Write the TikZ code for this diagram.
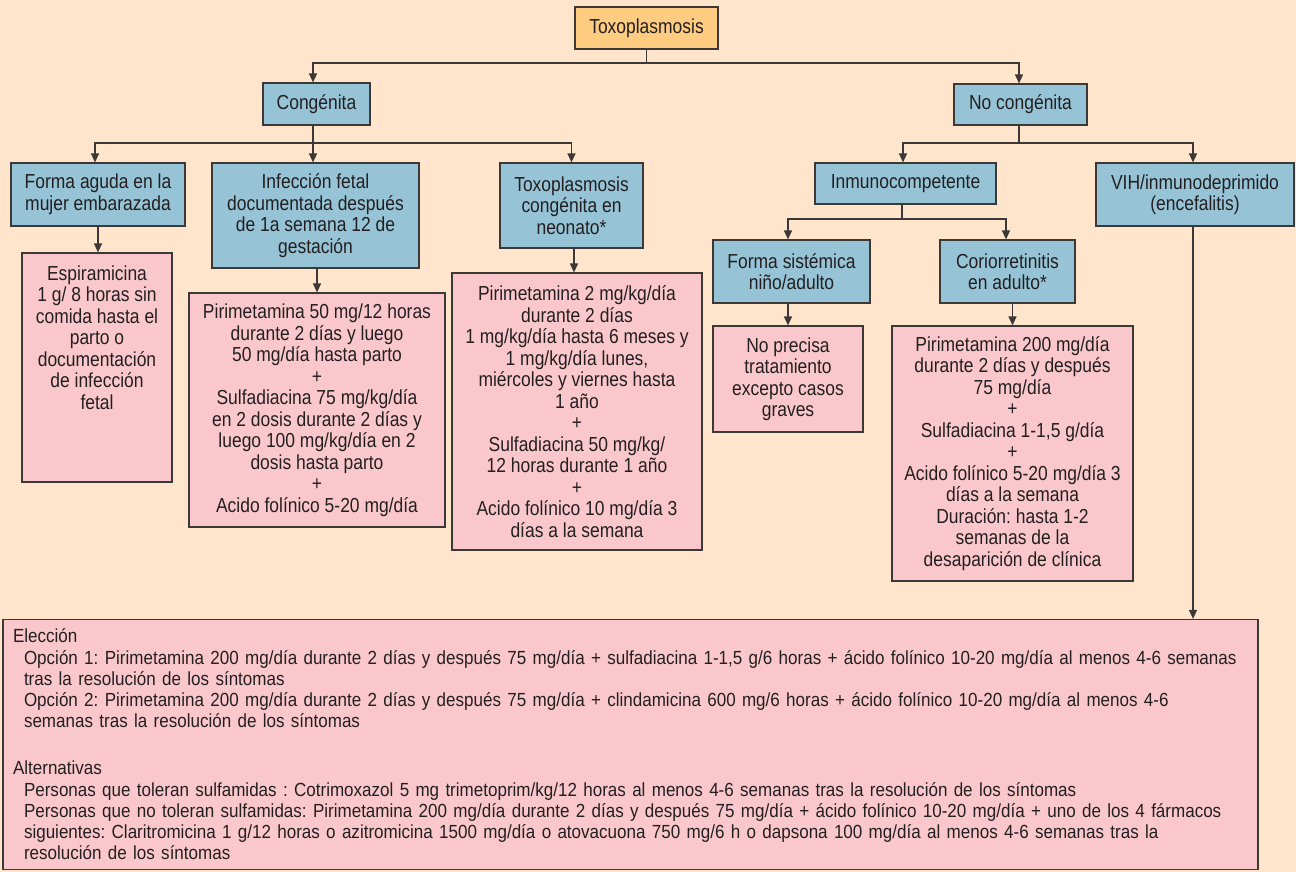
\documentclass[tikz,border=0pt]{standalone}
\usepackage{fontspec}
\setmainfont{Liberation Sans}[FakeStretch=0.86]
\newfontfamily\panelfont{Liberation Sans}[FakeStretch=0.896]
\usetikzlibrary{arrows.meta}

\definecolor{bgpeach}{RGB}{254,229,203}
\definecolor{boxorange}{RGB}{254,204,128}
\definecolor{boxblue}{RGB}{150,196,214}
\definecolor{boxpink}{RGB}{250,200,204}
\definecolor{edgegray}{RGB}{60,56,56}
\definecolor{inkdark}{RGB}{35,31,32}

\tikzset{
  box/.style={draw=edgegray, line width=1.2pt, inner sep=0pt, align=center,
    text=inkdark, font=\fontsize{20.3}{21.5}\selectfont},
  topbox/.style={box, fill=boxorange},
  catbox/.style={box, fill=boxblue},
  txbox/.style={box, fill=boxpink},
  ln/.style={draw=edgegray, line width=1.3pt},
  arr/.style={ln, -{Triangle[width=8pt,length=9pt]}},
}

\begin{document}
\frenchspacing
\begin{tikzpicture}[x=1pt, y=-1pt]
\fill[bgpeach] (0,0) rectangle (1296,872);
\useasboundingbox (0,0) rectangle (1296,872);

% root and first level
\node[topbox, minimum width=143, minimum height=42] (toxo) at (646.5,28) {Toxoplasmosis};
\node[catbox, minimum width=107, minimum height=42] (cong) at (316.5,104) {Congénita};
\node[catbox, minimum width=133, minimum height=41] (nocong) at (1020.5,104.5) {No congénita};

% congenital branch
\node[catbox, minimum width=174, minimum height=63] (aguda) at (98,194.5)
  {Forma aguda en la\\mujer embarazada};
\node[catbox, minimum width=207, minimum height=105] (fetal) at (315.5,215.5)
  {Infección fetal\\documentada después\\de 1a semana 12 de\\gestación};
\node[catbox, minimum width=143, minimum height=85] (neonato) at (571.5,205.5)
  {Toxoplasmosis\\congénita en\\neonato*};

\node[txbox, minimum width=150, minimum height=229] (espira) at (97,367.5)
  {Espiramicina\\1 g/ 8 horas sin\\comida hasta el\\parto o\\documentación\\de infección\\fetal\\[38.5pt]\mbox{}};
\node[txbox, minimum width=256, minimum height=234] (fetaltx) at (317,410)
  {Pirimetamina 50 mg/12 horas\\durante 2 días y luego\\50 mg/día hasta parto\\+\\Sulfadiacina 75 mg/kg/día\\en 2 dosis durante 2 días y\\luego 100 mg/kg/día en 2\\dosis hasta parto\\+\\Acido folínico 5-20 mg/día};
\node[txbox, minimum width=250, minimum height=277] (neotx) at (577,411.5)
  {Pirimetamina 2 mg/kg/día\\durante 2 días\\1 mg/kg/día hasta 6 meses y\\1 mg/kg/día lunes,\\miércoles y viernes hasta\\1 año\\+\\Sulfadiacina 50 mg/kg/\\12 horas durante 1 año\\+\\Acido folínico 10 mg/día 3\\días a la semana};

% non-congenital branch
\node[catbox, minimum width=181, minimum height=41] (inmuno) at (905.5,183.5) {Inmunocompetente};
\node[catbox, minimum width=198, minimum height=63] (vih) at (1195,194.5)
  {VIH/inmunodeprimido\\(encefalitis)};
\node[catbox, minimum width=157, minimum height=63] (sist) at (791.5,271.5)
  {Forma sistémica\\niño/adulto};
\node[catbox, minimum width=135, minimum height=63] (corio) at (1007.5,271.5)
  {Coriorretinitis\\en adulto*};
\node[txbox, minimum width=150, minimum height=106] (noprec) at (788,379)
  {No precisa\\tratamiento\\excepto casos\\graves};
\node[txbox, minimum width=241, minimum height=255] (coriotx) at (1012.5,453.5)
  {Pirimetamina 200 mg/día\\durante 2 días y después\\75 mg/día\\+\\Sulfadiacina 1-1,5 g/día\\+\\Acido folínico 5-20 mg/día 3\\días a la semana\\Duración: hasta 1-2\\semanas de la\\desaparición de clínica};

% HIV treatment panel
\node[txbox, align=left, text width=1235, inner xsep=10pt, minimum height=250,
      font=\panelfont\fontsize{19}{21.25}\selectfont] (big) at (630.5,744.5)
  {Elección\\
   \hspace*{11pt}Opción 1: Pirimetamina 200 mg/día durante 2 días y después 75 mg/día + sulfadiacina 1-1,5 g/6 horas + ácido folínico 10-20 mg/día al menos 4-6 semanas\\
   \hspace*{11pt}tras la resolución de los síntomas\\
   \hspace*{11pt}Opción 2: Pirimetamina 200 mg/día durante 2 días y después 75 mg/día + clindamicina 600 mg/6 horas + ácido folínico 10-20 mg/día al menos 4-6\\
   \hspace*{11pt}semanas tras la resolución de los síntomas\\[25.75pt]
   Alternativas\\
   \hspace*{11pt}Personas que toleran sulfamidas : Cotrimoxazol 5 mg trimetoprim/kg/12 horas al menos 4-6 semanas tras la resolución de los síntomas\\
   \hspace*{11pt}Personas que no toleran sulfamidas: Pirimetamina 200 mg/día durante 2 días y después 75 mg/día + ácido folínico 10-20 mg/día + uno de los 4 fármacos\\
   \hspace*{11pt}siguientes: Claritromicina 1 g/12 horas o azitromicina 1500 mg/día o atovacuona 750 mg/6 h o dapsona 100 mg/día al menos 4-6 semanas tras la\\
   \hspace*{11pt}resolución de los síntomas};

% branching levels
\coordinate (j1) at (0,63);
\coordinate (j2) at (0,143);
\coordinate (j3) at (0,219);

\coordinate (congout) at ([xshift=-3.5pt]cong.south);
\coordinate (congin) at ([xshift=-3.5pt]cong.north);
\coordinate (ncin) at ([xshift=-1.5pt]nocong.north);
\coordinate (ncout) at ([xshift=-1.5pt]nocong.south);
\coordinate (agudain) at ([xshift=-3pt]aguda.north);
\coordinate (neoin) at ([xshift=-3pt]neotx.north);
\coordinate (inmin) at ([xshift=-2.5pt]inmuno.north);
\coordinate (inmout) at ([xshift=-3.5pt]inmuno.south);
\coordinate (vihin) at ([xshift=-2pt]vih.north);
\coordinate (vihout) at ([xshift=-2pt]vih.south);
\coordinate (sistin) at ([xshift=-3.5pt]sist.north);
\coordinate (corioin) at ([xshift=-1.5pt]corio.north);

% connectors
\draw[arr] (toxo.south) -- (toxo.south |- j1) -| (congin);
\draw[arr] (toxo.south |- j1) -| (ncin);

\draw[arr] (congout) -- (congout |- fetal.north);
\draw[arr] (congout |- j2) -| (agudain);
\draw[arr] (congout |- j2) -| (neonato.north);
\draw[arr] (aguda.south) -- (aguda.south |- espira.north);
\draw[arr] (fetaltx.north |- fetal.south) -- (fetaltx.north);
\draw[arr] (neoin |- neonato.south) -- (neoin);

\draw[ln] (ncout) -- (ncout |- j2);
\draw[arr] (ncout |- j2) -| (inmin);
\draw[arr] (ncout |- j2) -| (vihin);
\draw[ln] (inmout) -- (inmout |- j3);
\draw[arr] (inmout |- j3) -| (sistin);
\draw[arr] (inmout |- j3) -| (corioin);
\draw[arr] (noprec.north |- sist.south) -- (noprec.north);
\draw[arr] (coriotx.north |- corio.south) -- (coriotx.north);
\draw[arr] (vihout) -- (vihout |- big.north);
\end{tikzpicture}
\end{document}
